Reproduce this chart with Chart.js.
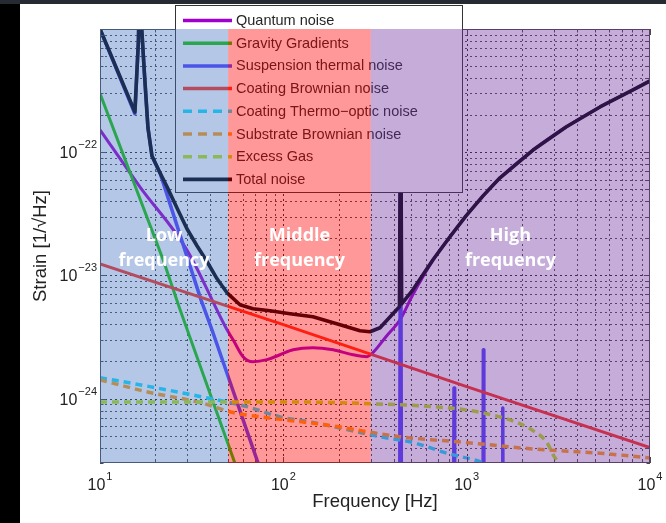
<!DOCTYPE html>
<html>
<head>
<meta charset="utf-8">
<script src="https://cdn.jsdelivr.net/npm/chart.js@4.4.1/dist/chart.umd.min.js"></script>
<style>
html,body{margin:0;padding:0;background:#fff;overflow:hidden;}
canvas{display:block;}
</style>
</head>
<body>
<canvas id="c" width="666" height="523"></canvas>
<script>
// ---------------- DATA ----------------
const quantumF = [10, 16.5, 29.8, 49.3, 53.2, 60.3, 68.3, 81.5, 95.9, 113, 145, 187, 240, 286, 308, 363, 433, 509, 655, 811, 992, 1228, 1520, 2301, 3483, 5336, 8072, 10000];
const quantumS = [1.52e-22, 5.24e-23, 1.61e-23, 3.62e-24, 3.0e-24, 2.19e-24, 1.99e-24, 2.07e-24, 2.27e-24, 2.49e-24, 2.59e-24, 2.49e-24, 2.27e-24, 2.19e-24, 2.36e-24, 3.18e-24, 4.36e-24, 7.0e-24, 1.33e-23, 2.06e-23, 3.04e-23, 4.42e-23, 6.19e-23, 1.04e-22, 1.60e-22, 2.33e-22, 3.20e-22, 3.79e-22];

const gravityF = [10, 22.1, 27.3, 54.4, 60];
const gravityS = [3.0e-22, 1.34e-23, 5.3e-24, 3.0e-25, 2.0e-25];

const suspF = [10, 15.5, 16.2, 16.5, 16.89, 17.49, 18.27, 19.21, 21.25, 30.2, 35.6, 40.8, 72.8, 80, 430, 436, 442, 846, 853, 860, 1225, 1233, 1241, 1565, 1574, 1583, 10000];
const suspS = [1.0e-21, 2.05e-22, 8e-22, 3e-21, 1.0e-21, 4.24e-22, 1.57e-22, 9.33e-23, 6.79e-23, 1.34e-23, 6.3e-24, 3.62e-24, 3.0e-25, 2.0e-25, 1e-26, 5e-22, 1e-26, 1e-26, 1.22e-24, 1e-26, 1e-26, 2.49e-24, 1e-26, 1e-26, 8.4e-25, 1e-26, 1e-26];

const coatBrF = [10, 100, 1000, 10000];
const coatBrS = [1.24e-23, 3.98e-24, 1.25e-24, 4.0e-25];

const coatToF = [10, 18.7, 35.1, 63.4, 95.9, 145, 223, 337, 509, 781, 1183, 1400];
const coatToS = [1.48e-24, 1.25e-24, 1.04e-24, 8.6e-25, 7.1e-25, 6.4e-25, 5.6e-25, 4.9e-25, 4.4e-25, 3.6e-25, 3.08e-25, 2.8e-25];

const substrF = [10, 18.7, 35.1, 53.2, 81.5, 123, 187, 282, 433, 991, 2300, 5340, 10000];
const substrS = [1.42e-24, 1.12e-24, 9.3e-25, 7.7e-25, 7.0e-25, 6.5e-25, 6.0e-25, 5.4e-25, 4.9e-25, 4.4e-25, 3.9e-25, 3.6e-25, 3.3e-25];

const gasF = [10, 100, 433, 655, 991, 1520, 1950, 2300, 2740, 2960, 3230, 3500];
const gasS = [9.4e-25, 9.4e-25, 8.9e-25, 8.6e-25, 8.1e-25, 7.1e-25, 6.25e-25, 5.5e-25, 4.4e-25, 3.5e-25, 2.75e-25, 1.5e-25];

const totalF = [10, 15.5, 16.2, 16.5, 16.89, 17.49, 18.27, 19.21, 21.25, 23.21, 26.3, 29.8, 33.8, 38.4, 43.5, 49.3, 58.0, 68.3, 84.6, 108.7, 145, 204, 262, 297, 337, 396, 430, 436, 442, 509, 655, 811, 992, 1228, 1520, 2301, 3483, 5336, 8072, 10000];
const totalS = [1.0e-21, 2.12e-22, 8e-22, 3e-21, 1.0e-21, 4.24e-22, 1.57e-22, 9.33e-23, 6.79e-23, 5.23e-23, 3.53e-23, 2.39e-23, 1.74e-23, 1.29e-23, 9.38e-24, 7.22e-24, 5.78e-24, 5.36e-24, 5.16e-24, 4.88e-24, 4.61e-24, 3.97e-24, 3.55e-24, 3.49e-24, 3.76e-24, 4.88e-24, 5.56e-24, 5e-22, 5.87e-24, 7.64e-24, 1.34e-23, 2.06e-23, 3.04e-23, 4.42e-23, 6.19e-23, 1.04e-22, 1.60e-22, 2.33e-22, 3.20e-22, 3.79e-22];

const seriesLabels = ['Quantum noise', 'Gravity Gradients', 'Suspension thermal noise', 'Coating Brownian noise', 'Coating Thermo\u2212optic noise', 'Substrate Brownian noise', 'Excess Gas', 'Total noise'];

const regionEdges = [10, 50, 300, 10000];
const regionLabels = [['Low', 'frequency'], ['Middle', 'frequency'], ['High', 'frequency']];

const xTickValues = [10, 100, 1000, 10000];
const xTickExponents = ['1', '2', '3', '4'];
const yTickValues = [1e-24, 1e-23, 1e-22];
const yTickExponents = ['\u221224', '\u221223', '\u221222'];

const xTitle = 'Frequency [Hz]';
const yTitle = 'Strain [1/\u221AHz]';

// ---------------- STYLES ----------------
const FONT = '"Liberation Sans", Arial, Helvetica, sans-serif';
const seriesColors = ['rgb(160,0,205)', 'rgb(25,200,0)', 'rgb(80,65,255)', 'rgb(255,50,30)', 'rgb(20,225,255)', 'rgb(255,160,20)', 'rgb(185,230,20)', 'rgb(0,0,10)'];
const seriesWidths = [3, 3, 3.5, 3, 3.5, 3.5, 3.5, 3.6];
const seriesDash = [[], [], [], [], [7, 5], [7, 5], [7, 5], []];
const seriesOrder = [7, 6, 5, 4, 3, 2, 1, 0];
const seriesSmooth = [true, false, false, false, true, true, true, false];
const regionColors = ['rgba(68,114,196,0.4)', 'rgba(255,0,0,0.4)', 'rgba(112,48,160,0.4)'];

const pairs = [[quantumF, quantumS], [gravityF, gravityS], [suspF, suspS], [coatBrF, coatBrS], [coatToF, coatToS], [substrF, substrS], [gasF, gasS], [totalF, totalS]];

const datasets = pairs.map(([f, s], i) => ({
  label: seriesLabels[i],
  data: f.map((v, k) => ({ x: v, y: s[k] })),
  borderColor: seriesColors[i],
  backgroundColor: seriesColors[i],
  borderWidth: seriesWidths[i],
  borderDash: seriesDash[i],
  borderCapStyle: 'butt',
  borderJoinStyle: 'round',
  pointRadius: 0,
  tension: 0,
  cubicInterpolationMode: seriesSmooth[i] ? 'monotone' : 'default',
  fill: false,
  clip: 0,
  order: seriesOrder[i]
}));

function decadeValues(minV, maxV) {
  const out = [];
  const e0 = Math.floor(Math.log10(minV)) - 1, e1 = Math.ceil(Math.log10(maxV));
  for (let e = e0; e <= e1; e++) {
    for (let k = 1; k <= 9; k++) {
      const v = k * Math.pow(10, e);
      if (v >= minV * 0.9999 && v <= maxV * 1.0001) out.push({ v, major: k === 1 });
    }
  }
  return out;
}

const decor = {
  id: 'decor',
  beforeDraw(chart) {
    const { ctx, width, height } = chart;
    ctx.save();
    ctx.fillStyle = '#fff'; ctx.fillRect(0, 0, width, height);
    ctx.fillStyle = '#000'; ctx.fillRect(0, 0, 20, height);
    ctx.fillStyle = '#262b33'; ctx.fillRect(0, 0, width, 4);
    ctx.restore();
  },
  beforeDatasetsDraw(chart) {
    const { ctx, chartArea: a, scales: { x, y } } = chart;
    ctx.save();
    ctx.beginPath(); ctx.rect(a.left, a.top, a.right - a.left, a.bottom - a.top); ctx.clip();
    ctx.lineWidth = 1;
    ctx.setLineDash([2, 3]);
    for (const t of decadeValues(x.min, x.max)) {
      const px = Math.round(x.getPixelForValue(t.v)) + 0.5;
      ctx.strokeStyle = t.major ? 'rgba(0,0,0,0.85)' : 'rgba(0,0,0,0.7)';
      ctx.beginPath(); ctx.moveTo(px, a.top); ctx.lineTo(px, a.bottom); ctx.stroke();
    }
    for (const t of decadeValues(y.min, y.max)) {
      const py = Math.round(y.getPixelForValue(t.v)) + 0.5;
      ctx.strokeStyle = t.major ? 'rgba(0,0,0,0.85)' : 'rgba(0,0,0,0.7)';
      ctx.beginPath(); ctx.moveTo(a.left, py); ctx.lineTo(a.right, py); ctx.stroke();
    }
    ctx.restore();
  },
  afterDatasetsDraw(chart) {
    const { ctx, chartArea: a, scales: { x, y } } = chart;
    ctx.save();
    // axes box and ticks
    ctx.setLineDash([]);
    ctx.strokeStyle = '#4a4a4a';
    ctx.lineWidth = 1;
    ctx.strokeRect(a.left + 0.5, a.top + 0.5, a.right - a.left - 1, a.bottom - a.top - 1);
    ctx.beginPath();
    for (const t of decadeValues(x.min, x.max)) {
      const px = Math.round(x.getPixelForValue(t.v)) + 0.5;
      const L = t.major ? 6 : 3.5;
      ctx.moveTo(px, a.bottom); ctx.lineTo(px, a.bottom - L);
      ctx.moveTo(px, a.top); ctx.lineTo(px, a.top + L);
    }
    for (const t of decadeValues(y.min, y.max)) {
      const py = Math.round(y.getPixelForValue(t.v)) + 0.5;
      const L = t.major ? 6 : 3.5;
      ctx.moveTo(a.left, py); ctx.lineTo(a.left + L, py);
      ctx.moveTo(a.right, py); ctx.lineTo(a.right - L, py);
    }
    ctx.stroke();

    // legend
    const lx = 175.5, ly = 5.5, lw = 287, lh = 187;
    ctx.fillStyle = '#fff';
    ctx.fillRect(lx, ly, lw, lh);
    ctx.strokeStyle = '#333';
    ctx.lineWidth = 1;
    ctx.strokeRect(lx, ly, lw, lh);
    ctx.font = '14.5px ' + FONT;
    ctx.textBaseline = 'middle';
    ctx.textAlign = 'left';
    chart.data.datasets.forEach((ds, i) => {
      const ry = 20.5 + i * 22.7;
      ctx.strokeStyle = ds.borderColor;
      ctx.lineWidth = Math.max(3.5, ds.borderWidth);
      ctx.setLineDash(ds.borderDash && ds.borderDash.length ? [9, 6] : []);
      ctx.beginPath(); ctx.moveTo(183, ry); ctx.lineTo(232, ry); ctx.stroke();
      ctx.setLineDash([]);
      ctx.fillStyle = '#262626';
      ctx.fillText(ds.label, 236, ry + 0.5);
    });

    // shaded frequency bands
    for (let i = 0; i < regionLabels.length; i++) {
      const x0 = x.getPixelForValue(regionEdges[i]);
      const x1 = x.getPixelForValue(regionEdges[i + 1]);
      ctx.fillStyle = regionColors[i];
      ctx.fillRect(x0, a.top, x1 - x0, a.bottom - a.top);
    }
    // band labels
    ctx.fillStyle = '#ffffff';
    ctx.font = 'bold 18px "Open Sans", Lato, sans-serif';
    ctx.textAlign = 'center';
    ctx.textBaseline = 'middle';
    for (let i = 0; i < regionLabels.length; i++) {
      const cx = (x.getPixelForValue(regionEdges[i]) + x.getPixelForValue(regionEdges[i + 1])) / 2;
      ctx.fillText(regionLabels[i][0], cx, a.top + 207);
      ctx.fillText(regionLabels[i][1], cx, a.top + 232);
    }
    ctx.restore();
  },
  afterDraw(chart) {
    const { ctx, chartArea: a, scales: { x, y } } = chart;
    ctx.save();
    ctx.fillStyle = '#222';
    ctx.textBaseline = 'alphabetic';
    const big = '16px ' + FONT, small = '11px ' + FONT;
    // x tick labels
    xTickValues.forEach((v, i) => {
      const px = x.getPixelForValue(v);
      ctx.font = big; const w1 = ctx.measureText('10').width;
      ctx.font = small; const w2 = ctx.measureText(xTickExponents[i]).width;
      const left = px - (w1 + w2 + 1) / 2;
      ctx.textAlign = 'left';
      ctx.font = big; ctx.fillText('10', left, a.bottom + 27);
      ctx.font = small; ctx.fillText(xTickExponents[i], left + w1 + 1, a.bottom + 17);
    });
    // y tick labels
    yTickValues.forEach((v, i) => {
      const py = y.getPixelForValue(v);
      ctx.font = small; const w2 = ctx.measureText(yTickExponents[i]).width;
      ctx.textAlign = 'right';
      ctx.fillText(yTickExponents[i], a.left - 3, py - 4);
      ctx.font = big;
      ctx.fillText('10', a.left - 3 - w2 - 1, py + 6);
    });
    // axis titles
    ctx.font = '18.5px ' + FONT;
    ctx.textAlign = 'center';
    ctx.textBaseline = 'middle';
    ctx.fillText(xTitle, (a.left + a.right) / 2, a.bottom + 39);
    ctx.translate(41, (a.top + a.bottom) / 2);
    ctx.rotate(-Math.PI / 2);
    ctx.fillText(yTitle, 0, 0);
    ctx.restore();
  }
};

new Chart(document.getElementById('c').getContext('2d'), {
  type: 'line',
  data: { datasets },
  options: {
    responsive: false,
    animation: false,
    devicePixelRatio: 1,
    events: [],
    layout: { padding: { left: 0, top: 29, right: 16, bottom: 0 } },
    plugins: { legend: { display: false }, tooltip: { enabled: false } },
    scales: {
      x: {
        type: 'logarithmic', min: 10, max: 10000,
        ticks: { display: false }, grid: { display: false }, border: { display: false },
        afterFit: (s) => { s.height = 60; }
      },
      y: {
        type: 'logarithmic', min: 3.05e-25, max: 1e-21,
        ticks: { display: false }, grid: { display: false }, border: { display: false },
        afterFit: (s) => { s.width = 100; }
      }
    }
  },
  plugins: [decor]
});
</script>
</body>
</html>
